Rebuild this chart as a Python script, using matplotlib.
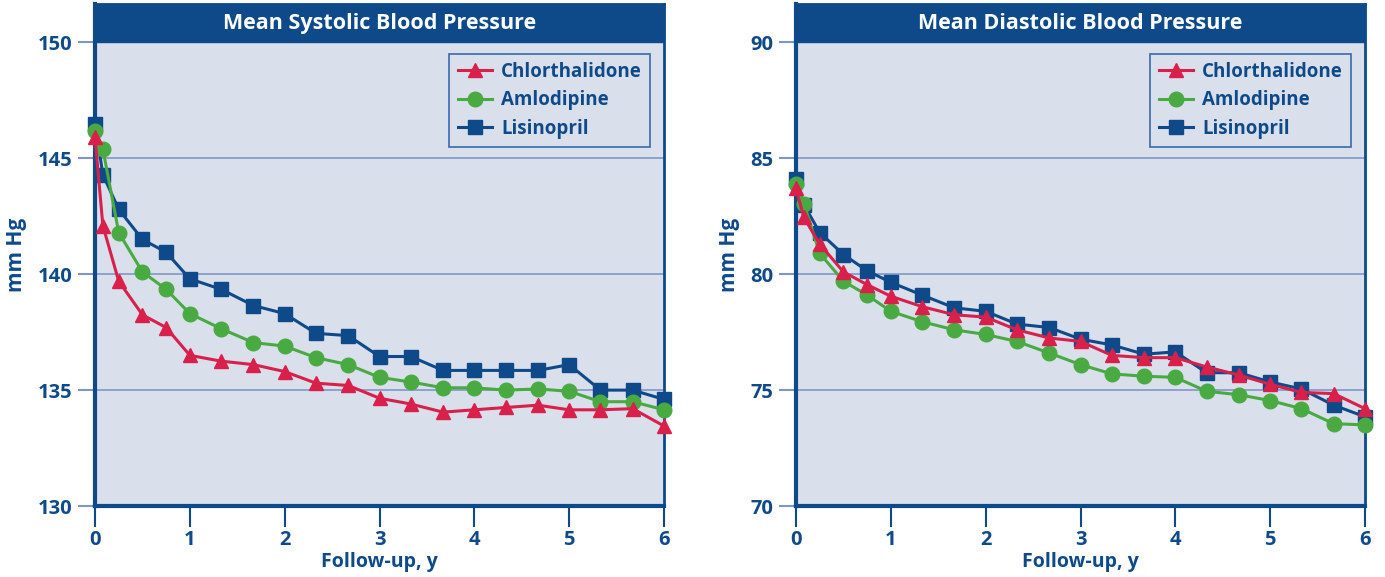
import matplotlib.pyplot as plt
from matplotlib.patches import Rectangle

# follow-up times (years)
years = [0, 0.083, 0.25, 0.5, 0.75, 1, 1.33, 1.67, 2, 2.33, 2.67,
         3, 3.33, 3.67, 4, 4.33, 4.67, 5, 5.33, 5.67, 6]

# systolic
sys_chlor = [145.9, 142.1, 139.7, 138.25, 137.7, 136.5, 136.25, 136.1, 135.8, 135.3, 135.2,
             134.65, 134.4, 134.05, 134.15, 134.25, 134.35, 134.15, 134.15, 134.2, 133.45]
sys_amlo = [146.2, 145.4, 141.8, 140.1, 139.35, 138.3, 137.65, 137.05, 136.9, 136.4, 136.1,
            135.55, 135.35, 135.1, 135.1, 135.0, 135.05, 134.95, 134.5, 134.5, 134.15]
sys_lisi = [146.5, 144.3, 142.8, 141.5, 140.95, 139.8, 139.35, 138.65, 138.3, 137.45, 137.35,
            136.45, 136.45, 135.85, 135.85, 135.85, 135.85, 136.1, 135.0, 135.0, 134.6]

# diastolic
dia_chlor = [83.7, 82.45, 81.3, 80.1, 79.55, 79.05, 78.6, 78.25, 78.15, 77.6, 77.25,
             77.1, 76.5, 76.4, 76.4, 76.0, 75.65, 75.25, 74.9, 74.85, 74.2]
dia_amlo = [83.9, 83.05, 80.9, 79.7, 79.1, 78.4, 77.95, 77.6, 77.4, 77.1, 76.6,
            76.1, 75.7, 75.6, 75.55, 74.95, 74.8, 74.55, 74.2, 73.55, 73.5]
dia_lisi = [84.1, 83.0, 81.8, 80.85, 80.15, 79.65, 79.1, 78.55, 78.4, 77.85, 77.7,
            77.2, 76.95, 76.55, 76.65, 75.75, 75.75, 75.35, 75.05, 74.35, 73.85]

labels = ['Chlorthalidone', 'Amlodipine', 'Lisinopril']

navy = '#0e4a8a'
red = '#d8204a'
green = '#4aaa42'
bg = '#dadfec'
gridc = '#8096c8'

plt.rcParams['font.family'] = ['Open Sans', 'DejaVu Sans']
plt.rcParams['font.weight'] = 'bold'

fig = plt.figure(figsize=(13.85, 5.77), dpi=100)
ax1 = fig.add_axes([95/1385, 71/577, 569/1385, 502/577])
ax2 = fig.add_axes([796/1385, 71/577, 569/1385, 502/577])


def draw(ax, chlor, amlo, lisi, lo, title):
    hi = lo + 20
    top = hi + 38.5 / 23.2
    ax.set_facecolor(bg)
    ax.plot(years, lisi, color=navy, marker='s', ms=9.5, lw=2.2, clip_on=False, zorder=3, label=labels[2])
    ax.plot(years, amlo, color=green, marker='o', ms=10.5, lw=2.2, clip_on=False, zorder=4, label=labels[1])
    ax.plot(years, chlor, color=red, marker='^', ms=10.5, lw=2.2, clip_on=False, zorder=5, label=labels[0])
    ax.set_xlim(0, 6)
    ax.set_ylim(lo, top)
    ax.set_yticks(range(lo, hi + 1, 5))
    ax.set_xticks(range(0, 7))
    ax.yaxis.grid(True, color=gridc, lw=1.2)
    ax.set_axisbelow(True)
    ax.tick_params(axis='y', length=12, width=1.5, color=gridc, labelcolor=navy, labelsize=14.5, pad=4)
    ax.tick_params(axis='x', length=15, width=1.5, color=navy, labelcolor=navy, labelsize=14.5, pad=2)
    for s in ax.spines.values():
        s.set_color(navy)
        s.set_linewidth(2)
    ax.spines['left'].set_linewidth(3)
    ax.spines['bottom'].set_linewidth(3)
    frac = (hi - lo) / (top - lo)
    ax.add_patch(Rectangle((0, frac), 1, 1 - frac, transform=ax.transAxes,
                           facecolor=navy, edgecolor=navy, zorder=6, clip_on=False))
    ax.text(0.5, (1 + frac) / 2, title, transform=ax.transAxes, ha='center', va='center',
            color='white', fontsize=15.5, fontweight='bold', zorder=7)
    ax.set_ylabel('mm Hg', color=navy, fontsize=15, fontweight='bold', labelpad=8)
    ax.set_xlabel('Follow-up, y', color=navy, fontsize=14, fontweight='bold', labelpad=2)
    h, l = ax.get_legend_handles_labels()
    leg = ax.legend(h[::-1], l[::-1], loc='upper right', bbox_to_anchor=(0.992, 0.92),
                    frameon=True, fancybox=False, fontsize=13.5, handlelength=1.8,
                    borderpad=0.45, labelspacing=0.45, handletextpad=0.5)
    leg.get_frame().set_facecolor(bg)
    leg.get_frame().set_edgecolor('#3a6aa8')
    leg.get_frame().set_linewidth(1.2)
    leg.get_frame().set_alpha(1)
    for t in leg.get_texts():
        t.set_color(navy)
        t.set_fontweight('bold')
    for t in ax.get_xticklabels() + ax.get_yticklabels():
        t.set_fontweight('bold')


draw(ax1, sys_chlor, sys_amlo, sys_lisi, 130, 'Mean Systolic Blood Pressure')
draw(ax2, dia_chlor, dia_amlo, dia_lisi, 70, 'Mean Diastolic Blood Pressure')

fig.savefig('out.png', dpi=100)
